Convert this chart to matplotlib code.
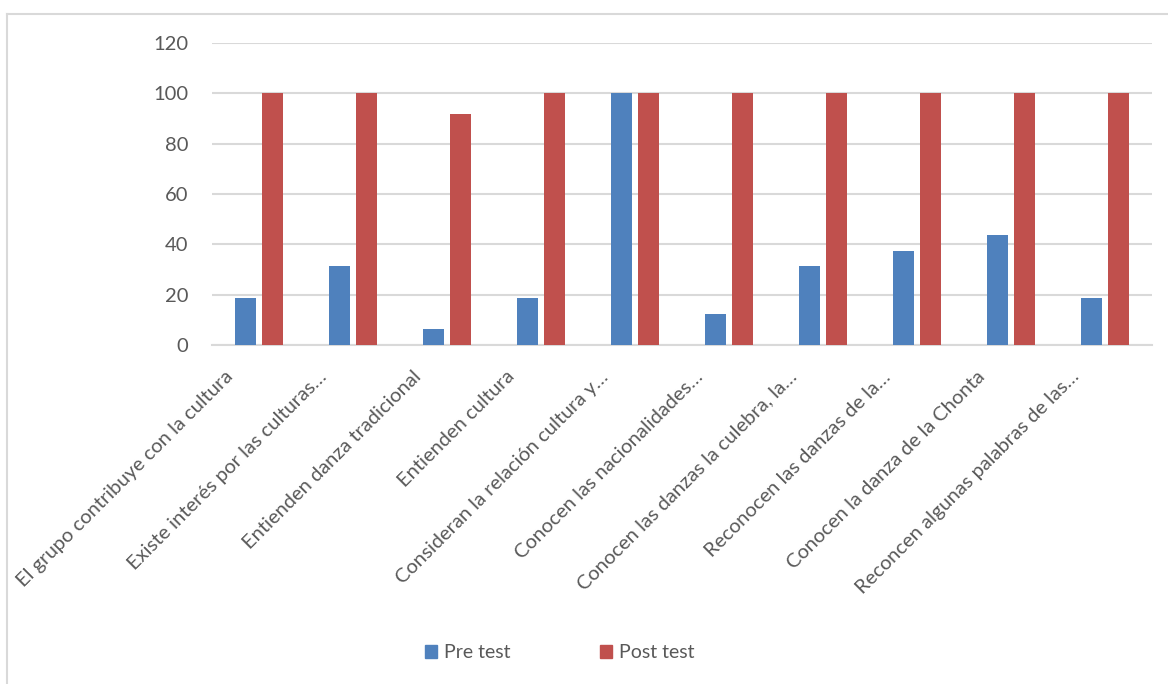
import matplotlib.pyplot as plt
import numpy as np
from matplotlib.lines import Line2D
from matplotlib.patches import Patch
from matplotlib.transforms import ScaledTranslation

categorias = [
    "El grupo contribuye con la cultura",
    "Existe interés por las culturas…",
    "Entienden danza tradicional",
    "Entienden cultura",
    "Consideran la relación cultura y…",
    "Conocen las nacionalidades…",
    "Conocen las danzas la culebra, la…",
    "Reconocen las danzas de la…",
    "Conocen la danza de la Chonta",
    "Reconcen algunas palabras de las…",
]
pre_test = [18.75, 31.25, 6.25, 18.75, 100, 12.5, 31.25, 37.5, 43.75, 18.75]
post_test = [100, 100, 91.7, 100, 100, 100, 100, 100, 100, 100]

AZUL = "#4F81BD"
ROJO = "#C0504D"
GRIS_TXT = "#595959"
GRIS_LIN = "#D9D9D9"

plt.rcParams['font.family'] = ['Lato', 'DejaVu Sans']

W, H = 1168, 684
fig = plt.figure(figsize=(W / 100, H / 100), dpi=100)
# area del grafico en pixeles: x 212-1152, y 43-345
ax = fig.add_axes([212 / W, 1 - 345 / H, 940 / W, 302 / H])

x = np.arange(len(categorias))
ancho = 0.223
sep = 0.032
ax.bar(x - ancho / 2 - sep, pre_test, ancho, color=AZUL, zorder=3)
ax.bar(x + ancho / 2 + sep, post_test, ancho, color=ROJO, zorder=3)

ax.set_xlim(-0.5, len(categorias) - 0.5)
ax.set_ylim(0, 120)
ax.set_yticks(range(0, 121, 20))
ax.yaxis.grid(True, color=GRIS_LIN, linewidth=1.5, zorder=0)
ax.tick_params(axis='y', length=0, pad=17, labelsize=14.5, labelcolor=GRIS_TXT)
ax.tick_params(axis='x', length=0, pad=0)

ax.set_xticks(x)
ax.set_xticklabels(categorias, rotation=45, ha='right', va='center',
                   rotation_mode='anchor', fontsize=14.5, color=GRIS_TXT)
# desplazar las etiquetas como en Excel
desplaza = ScaledTranslation(-29 / 100, -29 / 100, fig.dpi_scale_trans)
for etiqueta in ax.get_xticklabels():
    etiqueta.set_transform(etiqueta.get_transform() + desplaza)

for lado in ['top', 'right', 'left']:
    ax.spines[lado].set_visible(False)
ax.spines['bottom'].set_color(GRIS_LIN)
ax.spines['bottom'].set_linewidth(1.5)

# leyenda abajo
manijas = [Patch(color=AZUL, label="Pre test"), Patch(color=ROJO, label="Post test")]
fig.legend(handles=manijas, loc='center', bbox_to_anchor=(560 / W, 1 - 653 / H),
           ncol=2, frameon=False, fontsize=14, labelcolor=GRIS_TXT,
           handlelength=0.62, handleheight=0.62, handletextpad=0.35, columnspacing=4.6)

# borde del area del grafico
fig.add_artist(Line2D([7 / W, 1], [1 - 14 / H, 1 - 14 / H], color=GRIS_LIN, linewidth=1.5))
fig.add_artist(Line2D([7 / W, 7 / W], [0, 1 - 14 / H], color=GRIS_LIN, linewidth=1.5))

fig.savefig("out.png", dpi=100)
